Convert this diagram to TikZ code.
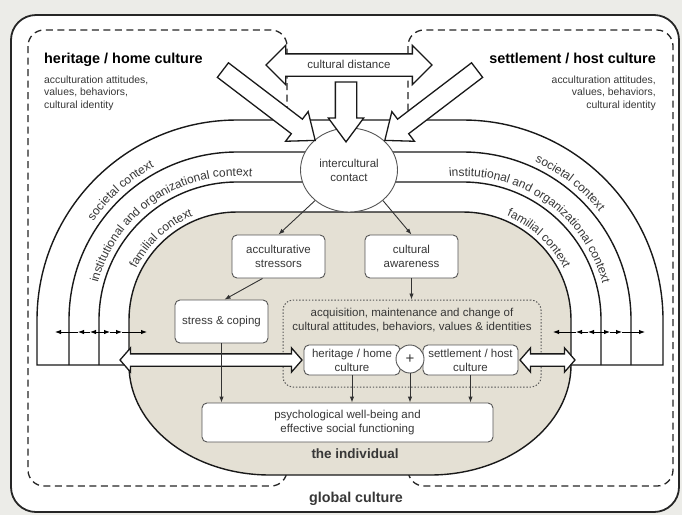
\documentclass[tikz,border=0pt]{standalone}
\usepackage{fontspec}
\setmainfont{Liberation Sans}
\usetikzlibrary{arrows.meta,shapes.arrows,shapes.geometric,decorations.text}

\definecolor{pagegray}{RGB}{236,236,232}
\definecolor{indiv}{RGB}{228,224,212}
\definecolor{inktxt}{RGB}{55,55,55}
\definecolor{boxline}{RGB}{85,85,85}
\newcommand{\fsz}[2]{\fontsize{#1}{#2}\selectfont}

\begin{document}
\begin{tikzpicture}[
    x=1pt, y=1pt,
    >={Latex[length=6pt,width=4.5pt]},
    every node/.style={text=inktxt, font=\fsz{11.5}{14}, inner sep=0pt},
    title/.style={font=\bfseries\fsz{14.4}{16}, text=black},
    desc/.style={font=\fsz{10.4}{12.5}},
    culture/.style={draw=black!85, line width=1.3pt, dash pattern=on 7pt off 4.5pt, rounded corners=16pt},
    band/.style={draw=black!90, line width=1.4pt},
    stepbox/.style={draw=boxline, fill=white, line width=0.9pt, rounded corners=5pt, align=center},
    blockarrow/.style={draw=black!90, fill=white, line width=1.3pt, inner sep=0pt},
    link/.style={->, draw=black!80, line width=0.9pt},
    ringtext/.style={decorate, decoration={text along path, text align=center, text color=inktxt, text={|\fsz{12}{12}|#1}}}
  ]
  \useasboundingbox (0,0) rectangle (682,-515);
  \fill[pagegray] (0,0) rectangle (682,-515);
  \draw[fill=white, draw=black!85, line width=1.8pt, rounded corners=25pt] (11,-15) rectangle (679,-512);

  \draw[culture] (28,-30) rectangle (287,-486);
  \draw[culture] (408,-30) rectangle (673,-486);
  \node[title, anchor=base west] (homettl) at (44,-63) {heritage / home culture};
  \node[desc, anchor=north west, align=left] (homedesc) at (44,-75.5) {acculturation attitudes,\\values, behaviors,\\cultural identity};
  \node[title, anchor=base east] (hostttl) at (656,-63) {settlement / host culture};
  \node[desc, anchor=north east, align=right] (hostdesc) at (656,-75.5) {acculturation attitudes,\\values, behaviors,\\cultural identity};

  \draw[band, fill=white] (37,-365) -- (37,-320) arc (180:90:200) -- (463,-120) arc (90:0:200) -- (663,-365) -- cycle;
  \draw[band] (69,-365) -- (69,-320) arc (180:90:168) -- (463,-152) arc (90:0:168) -- (631,-365);
  \draw[band] (99,-365) -- (99,-320) arc (180:90:138) -- (463,-182) arc (90:0:138) -- (601,-365);
  \path[ringtext={societal context}] ([shift={(162:174)}]237,-320) arc (162:102:174);
  \path[ringtext={institutional and organizational context}] ([shift={(172:144)}]237,-320) arc (172:77:144);
  \path[ringtext={familial context}] ([shift={(156:113)}]237,-320) arc (156:110:113);
  \path[ringtext={societal context}] ([shift={(80:174)}]463,-320) arc (80:24:174);
  \path[ringtext={institutional and organizational context}] ([shift={(102:144)}]463,-320) arc (102:8:144);
  \path[ringtext={familial context}] ([shift={(70:113)}]463,-320) arc (70:24:113);

  \draw[band, fill=indiv] (129,-365) -- (129,-320) arc (180:90:108) -- (463,-212) arc (90:0:108)
    -- (571,-365) arc (0:-90:141 and 110) -- (270,-475) arc (270:180:141 and 110) -- cycle;

  \foreach \m/\a/\b/\c in {100/90/78/55, 100/110/122/147, 599/588/576/553, 599/610/622/645} {
    \draw[->, line width=0.9pt] (\m,-332) -- (\a,-332);
    \draw[->, line width=0.9pt] (\a,-332) -- (\b,-332);
    \draw[->, line width=0.9pt] (\b,-332) -- (\c,-332);
  }

  \node[ellipse, draw=boxline, fill=white, line width=0.9pt, minimum width=97pt, minimum height=84pt, align=center] (contact) at (349,-170) {intercultural\\contact};

  \node[double arrow, blockarrow, minimum height=166pt, inner ysep=5.5pt, text height=8pt, text depth=2pt,
    double arrow head extend=8.5pt, double arrow tip angle=90] (distance) at (349,-65) {cultural distance};
  \node[single arrow, blockarrow, rotate=-90, anchor=tip, minimum height=60pt, inner ysep=10pt,
    single arrow head extend=7pt, single arrow tip angle=73] (drop) at (346,-143) {};
  \node[single arrow, blockarrow, rotate=-37.3, anchor=tip, minimum height=116pt, inner ysep=8.5pt,
    single arrow head extend=9.5pt, single arrow tip angle=78] (pushhome) at (316,-141) {};
  \node[single arrow, blockarrow, rotate=-142.7, anchor=tip, minimum height=116pt, inner ysep=8.5pt,
    single arrow head extend=9.5pt, single arrow tip angle=78] (pushhost) at (384,-141) {};

  \node[stepbox, minimum width=93pt, minimum height=43pt] (stressors) at (278.5,-256.5) {acculturative\\stressors};
  \node[stepbox, minimum width=93pt, minimum height=43pt] (awareness) at (411.5,-256.5) {cultural\\awareness};
  \node[stepbox, minimum width=93pt, minimum height=43pt] (coping) at (221.5,-321.5) {stress \& coping};
  \node[draw=boxline, line width=1pt, dash pattern=on 1.4pt off 1.8pt, rounded corners=10pt,
    minimum width=258pt, minimum height=87pt] (acq) at (412,-343.5) {};
  \node[align=center] (acqtext) at (412,-320) {acquisition, maintenance and change of\\cultural attitudes, behaviors, values \& identities};

  \node[double arrow, blockarrow, minimum height=182pt, inner ysep=5.5pt,
    double arrow head extend=6pt, double arrow tip angle=98] (linkhome) at (211,-360) {};
  \node[double arrow, blockarrow, minimum height=55pt, inner ysep=5.5pt,
    double arrow head extend=6pt, double arrow tip angle=98] (linkhost) at (547.5,-360) {};

  \node[stepbox, minimum width=96pt, minimum height=30pt, font=\fsz{11.5}{14}] (homebox) at (352,-360) {heritage / home\\culture};
  \node[stepbox, minimum width=95pt, minimum height=30pt, font=\fsz{11.5}{14}] (hostbox) at (470.5,-360) {settlement / host\\culture};
  \node[circle, draw=boxline, fill=white, line width=0.9pt, minimum size=28pt, font=\fsz{15}{15}] (plus) at (410,-359) {+};
  \node[stepbox, minimum width=291pt, minimum height=39pt] (wellbeing) at (347.5,-422.5) {psychological well-being and\\effective social functioning};

  \draw[link] (contact.222) -- (stressors.north);
  \draw[link] (contact.318) -- (awareness.north);
  \draw[link] ([xshift=-16pt]stressors.south) -- ([xshift=3pt]coping.north);
  \draw[link] (awareness.south) -- (awareness.south |- acq.north);
  \draw[link] (coping.south) -- (coping.south |- wellbeing.north);
  \draw[link] (homebox.south) -- (homebox.south |- wellbeing.north);
  \draw[link] (plus.south) -- (plus.south |- wellbeing.north);
  \draw[link] (hostbox.south) -- (hostbox.south |- wellbeing.north);

  \node[font=\bfseries\fsz{13.5}{14}] (individual) at (355,-454) {the individual};
  \node[font=\bfseries\fsz{14.3}{15}] (global) at (356,-499) {global culture};
\end{tikzpicture}
\end{document}
